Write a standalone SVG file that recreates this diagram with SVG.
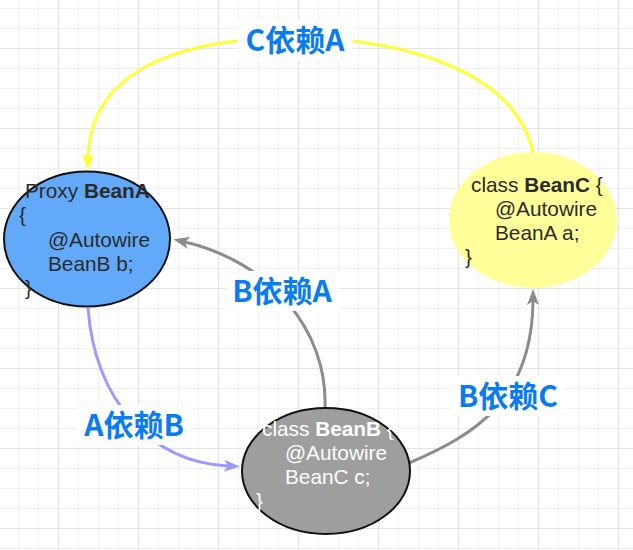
<svg xmlns="http://www.w3.org/2000/svg" width="633" height="550" viewBox="0 0 633 550">
<style>
.node-text{font-family:"Liberation Sans",Arial,sans-serif;font-size:20.8px;fill:#2b2b2b}
.white{fill:#ffffff}
.b{font-weight:bold}
.lbl{font-family:"Noto Sans CJK SC","Noto Sans",sans-serif;font-size:30px;font-weight:bold;fill:#0a7cf0;text-anchor:middle}
.lblbg{fill:#ffffff}
.conn{fill:none;stroke-width:3}
</style>
<defs>
<pattern id="grid" patternUnits="userSpaceOnUse" x="-22" y="-32" width="80" height="80">
<rect width="80" height="80" fill="#ffffff"/>
<path d="M20.5 0V80M40.5 0V80M60.5 0V80M0 20.5H80M0 40.5H80M0 60.5H80" stroke="#f1f1f1" stroke-width="1"/>
<path d="M0.5 0V80M0 0.5H80" stroke="#e4e4e4" stroke-width="1.2"/>
</pattern>
<marker id="arY" markerUnits="userSpaceOnUse" markerWidth="18" markerHeight="14" refX="4" refY="7" orient="auto"><path d="M0,1 L16,7 L0,13 L4,7 z" fill="#ffff33"/></marker>
<marker id="arP" markerUnits="userSpaceOnUse" markerWidth="18" markerHeight="14" refX="4" refY="7" orient="auto"><path d="M0,1 L16,7 L0,13 L4,7 z" fill="#9999ff"/></marker>
<marker id="arG" markerUnits="userSpaceOnUse" markerWidth="18" markerHeight="14" refX="4" refY="7" orient="auto"><path d="M0,1 L16,7 L0,13 L4,7 z" fill="#8c8c8c"/></marker>
</defs>
<rect width="633" height="550" fill="url(#grid)"/>

<g id="connectors">
<path class="conn" stroke="#ffff33" d="M533 152 C515 70 400 38 295 38 C180 38 90 70 88 158" marker-end="url(#arY)"/>
<path class="conn" stroke="#9999ff" d="M88 308 C95 400 150 462 228 466" marker-end="url(#arP)"/>
<path class="conn" stroke="#8c8c8c" d="M325 408 C328 330 270 262 185 242" marker-end="url(#arG)"/>
<path class="conn" stroke="#8c8c8c" d="M409 463 C475 435 532 400 533 301" marker-end="url(#arG)"/>
<rect class="lblbg" x="238" y="20" width="115" height="40"/>
<text class="lbl" x="295" y="51">C依赖A</text>
<rect class="lblbg" x="226" y="271" width="113" height="40"/>
<text class="lbl" x="282" y="302">B依赖A</text>
<rect class="lblbg" x="76" y="405" width="116" height="40"/>
<text class="lbl" x="134" y="436">A依赖B</text>
<rect class="lblbg" x="452" y="376" width="112" height="40"/>
<text class="lbl" x="508" y="407">B依赖C</text>
</g>

<g id="beanA">
<ellipse cx="87" cy="239" rx="83" ry="67.5" fill="#62aaf9" stroke="#111" stroke-width="2"/>
<text class="node-text" x="25" y="198">Proxy <tspan class="b">BeanA</tspan></text>
<text class="node-text" x="19" y="222">{</text>
<text class="node-text" x="48" y="247">@Autowire</text>
<text class="node-text" x="48" y="271">BeanB b;</text>
<text class="node-text" x="25" y="295">}</text>
</g>

<g id="beanB">
<ellipse cx="326" cy="471" rx="84" ry="63" fill="#9e9e9e" stroke="#111" stroke-width="2"/>
<text class="node-text white" x="262" y="436">class <tspan class="b">BeanB</tspan> {</text>
<text class="node-text white" x="285" y="460">@Autowire</text>
<text class="node-text white" x="285" y="484">BeanC c;</text>
<text class="node-text white" x="256" y="508">}</text>
</g>

<g id="beanC">
<ellipse cx="533" cy="220" rx="84" ry="68" fill="#ffff99"/>
<text class="node-text" x="471" y="192">class <tspan class="b">BeanC</tspan> {</text>
<text class="node-text" x="495" y="216">@Autowire</text>
<text class="node-text" x="495" y="240">BeanA a;</text>
<text class="node-text" x="465" y="264">}</text>
</g>
</svg>
